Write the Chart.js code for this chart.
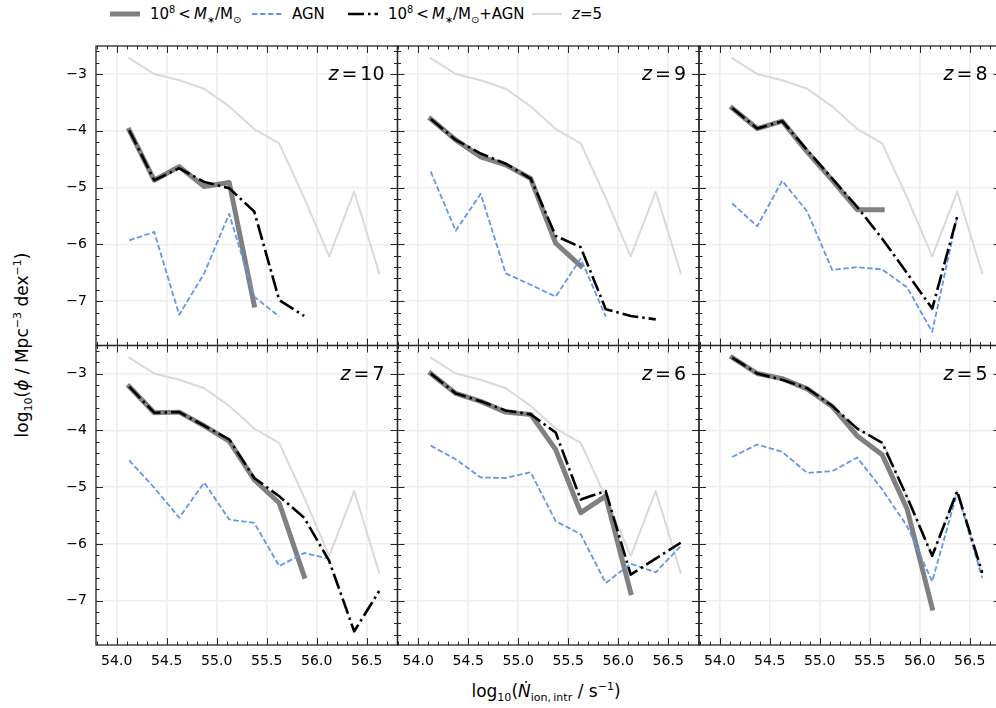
<!DOCTYPE html>
<html>
<head>
<meta charset="utf-8">
<script src="https://cdn.jsdelivr.net/npm/chart.js@4.4.0/dist/chart.umd.min.js"></script>
<style>
  body { margin: 0; width: 996px; height: 708px; overflow: hidden; background: #fff; position: relative;
         font-family: "DejaVu Sans", sans-serif; color: #000; }
  canvas { position: absolute; }
  .item { position: absolute; top: 3px; height: 22px; display: flex; align-items: center; white-space: nowrap; font-size: 15px; }
  .item svg { margin-right: 10px; }
  .ytitle { position: absolute; left: 22px; top: 345px; transform: translate(-50%, -50%) rotate(-90deg); font-size: 17px; white-space: nowrap; }
  .xtitle { position: absolute; left: 546px; top: 691px; transform: translate(-50%, -50%); font-size: 17px; white-space: nowrap; }
  sub, sup { font-size: 65%; line-height: 0; }
</style>
</head>
<body>

<div class="item" style="left:110px"><svg width="30" height="10"><line x1="0" y1="5" x2="30" y2="5" stroke="#808080" stroke-width="5"/></svg><span>10<sup>8</sup>&thinsp;&lt;&thinsp;<i>M</i><sub>∗</sub>/M<sub>⊙</sub></span></div>
<div class="item" style="left:252px"><svg width="30" height="10"><line x1="0" y1="5" x2="30" y2="5" stroke="#6495ed" stroke-width="1.8" stroke-dasharray="5.5 2.5"/></svg><span>AGN</span></div>
<div class="item" style="left:348px"><svg width="30" height="10"><line x1="0" y1="5" x2="30" y2="5" stroke="#000" stroke-width="2.5" stroke-dasharray="16 4 2.5 4"/></svg><span>10<sup>8</sup>&thinsp;&lt;&thinsp;<i>M</i><sub>∗</sub>/M<sub>⊙</sub>+AGN</span></div>
<div class="item" style="left:532px"><svg width="30" height="10"><line x1="0" y1="5" x2="30" y2="5" stroke="#d9d9d9" stroke-width="2"/></svg><span><i>z</i>=5</span></div>

<div class="ytitle">log<sub>10</sub>(<i>ϕ</i> / Mpc<sup>−3</sup> dex<sup>−1</sup>)</div>
<div class="xtitle">log<sub>10</sub>(<i>Ṅ</i><sub>ion,&thinsp;intr</sub> / s<sup>−1</sup>)</div>

<script>
// bin centres of log10(N_ion) and axis ticks
const binCentres = [54.125, 54.375, 54.625, 54.875, 55.125, 55.375, 55.625, 55.875, 56.125, 56.375, 56.625];
const xTicks = [54.0, 54.5, 55.0, 55.5, 56.0, 56.5];
const yTicks = [-7, -6, -5, -4, -3];
const redshifts = [10, 9, 8, 7, 6, 5];

// log10(phi)
const stellarZ10 = [-3.99, -4.87, -4.63, -4.98, -4.91, -7.07];
const agnZ10 = [-5.93, -5.78, -7.24, -6.51, -5.46, -6.92, -7.27];
const combinedZ10 = [-3.99, -4.87, -4.66, -4.90, -5.01, -5.42, -6.98, -7.26];

const stellarZ9 = [-3.79, -4.16, -4.46, -4.60, -4.84, -5.98, -6.38];
const agnZ9 = [-4.72, -5.76, -5.11, -6.51, -6.71, -6.92, -6.25, -7.27];
const combinedZ9 = [-3.79, -4.16, -4.40, -4.58, -4.84, -5.85, -6.05, -7.14, -7.26, -7.32];

const stellarZ8 = [-3.60, -3.96, -3.83, -4.37, -4.87, -5.39, -5.39];
const agnZ8 = [-5.28, -5.68, -4.88, -5.42, -6.45, -6.40, -6.44, -6.76, -7.54, -5.51];
const combinedZ8 = [-3.60, -3.96, -3.83, -4.34, -4.84, -5.34, -5.90, -6.51, -7.13, -5.51];

const stellarZ7 = [-3.23, -3.69, -3.68, -3.92, -4.19, -4.87, -5.28, -6.57];
const agnZ7 = [-4.53, -5.01, -5.54, -4.92, -5.57, -5.63, -6.39, -6.16, -6.26];
const combinedZ7 = [-3.23, -3.69, -3.68, -3.92, -4.16, -4.84, -5.16, -5.54, -6.30, -7.54, -6.83];

const stellarZ6 = [-3.00, -3.35, -3.49, -3.68, -3.72, -4.34, -5.45, -5.16, -6.86];
const agnZ6 = [-4.27, -4.51, -4.83, -4.84, -4.74, -5.60, -5.83, -6.69, -6.35, -6.50, -6.04];
const combinedZ6 = [-3.00, -3.35, -3.49, -3.65, -3.72, -4.04, -5.22, -5.07, -6.54, -6.26, -5.98];

const stellarZ5 = [-2.72, -3.00, -3.09, -3.27, -3.58, -4.10, -4.43, -5.39, -7.13];
const agnZ5 = [-4.47, -4.25, -4.38, -4.75, -4.72, -4.48, -5.04, -5.69, -6.66, -5.10, -6.60];
const combinedZ5 = [-2.72, -3.00, -3.11, -3.26, -3.57, -3.97, -4.22, -5.18, -6.21, -5.07, -6.51];

const stellarSets = [stellarZ10, stellarZ9, stellarZ8, stellarZ7, stellarZ6, stellarZ5];
const agnSets = [agnZ10, agnZ9, agnZ8, agnZ7, agnZ6, agnZ5];
const combinedSets = [combinedZ10, combinedZ9, combinedZ8, combinedZ7, combinedZ6, combinedZ5];

// panel geometry (page pixels)
const colLeft = [96, 397.5, 699];
const rowTop = [46, 345.5];
const panelW = 301.5, panelH = 299.5;
const xMin = 53.793, xMax = 56.808;
const yMin = -7.78, yMax = -2.507;

const toPoints = vals => vals.map((v, i) => ({ x: binCentres[i], y: v }));

const frameColour = '#262626';

const framePlugin = {
    id: 'frame',
    afterDraw(chart, args, opts) {
        const { ctx, chartArea: a, scales: { x, y } } = chart;
        ctx.save();
        ctx.strokeStyle = frameColour;
        ctx.lineWidth = 1;
        ctx.beginPath();
        // inward ticks on all four sides
        for (let k = 538; k <= 568; k++) {
            const v = k / 10;
            if (v < xMin || v > xMax) continue;
            const len = (k % 5 === 0) ? 7 : 3.5;
            const px = Math.round(x.getPixelForValue(v)) + 0.5;
            ctx.moveTo(px, a.bottom); ctx.lineTo(px, a.bottom - len);
            ctx.moveTo(px, a.top); ctx.lineTo(px, a.top + len);
        }
        for (let k = -39; k <= -12; k++) {
            const v = k / 5;
            if (v < yMin || v > yMax) continue;
            const len = (k % 5 === 0) ? 7 : 3.5;
            const py = Math.round(y.getPixelForValue(v)) + 0.5;
            ctx.moveTo(a.left, py); ctx.lineTo(a.left + len, py);
            ctx.moveTo(a.right, py); ctx.lineTo(a.right - len, py);
        }
        ctx.stroke();
        ctx.lineWidth = 1.3;
        ctx.strokeRect(a.left, a.top, a.width, a.height);

        ctx.fillStyle = '#000';
        ctx.font = '14px "DejaVu Sans"';
        if (opts.col === 0) {
            ctx.textAlign = 'right';
            ctx.textBaseline = 'middle';
            yTicks.forEach(v => ctx.fillText('\u2212' + Math.abs(v), a.left - 9, y.getPixelForValue(v)));
        }
        if (opts.row === 1) {
            ctx.textAlign = 'center';
            ctx.textBaseline = 'top';
            xTicks.forEach(v => ctx.fillText(v.toFixed(1), x.getPixelForValue(v), a.bottom + 9));
        }

        // redshift label, right aligned
        const base = a.top + 34;
        ctx.textBaseline = 'alphabetic';
        ctx.textAlign = 'left';
        ctx.font = '19px "DejaVu Sans"';
        const num = String(opts.z);
        const wNum = ctx.measureText(num).width;
        const wEq = ctx.measureText('=').width;
        ctx.font = 'italic 19px "DejaVu Sans"';
        const wZ = ctx.measureText('z').width;
        const gap = 3;
        let cx = a.right - 13 - wNum - wEq - wZ - 2 * gap;
        ctx.fillText('z', cx, base);
        cx += wZ + gap;
        ctx.font = '19px "DejaVu Sans"';
        ctx.fillText('=', cx, base);
        cx += wEq + gap;
        ctx.fillText(num, cx, base);
        ctx.restore();
    }
};

redshifts.forEach((z, i) => {
    const col = i % 3, row = Math.floor(i / 3);
    const canvasLeft = Math.floor(colLeft[col]) - 70;
    const canvasTop = Math.floor(rowTop[row]) - 15;
    const W = 395, H = 365;
    const canvas = document.createElement('canvas');
    canvas.width = W;
    canvas.height = H;
    canvas.style.left = canvasLeft + 'px';
    canvas.style.top = canvasTop + 'px';
    document.body.appendChild(canvas);

    const padLeft = colLeft[col] - canvasLeft;
    const padTop = rowTop[row] - canvasTop;

    new Chart(canvas, {
        type: 'line',
        data: {
            datasets: [
                {
                    label: 'z=5',
                    data: toPoints(combinedZ5),
                    borderColor: '#d9d9d9',
                    borderWidth: 2,
                    borderCapStyle: 'square',
                    order: 4
                },
                {
                    label: '10^8 < M*/Msun',
                    data: toPoints(stellarSets[i]),
                    borderColor: '#808080',
                    borderWidth: 5,
                    borderCapStyle: 'square',
                    order: 3
                },
                {
                    label: 'AGN',
                    data: toPoints(agnSets[i]),
                    borderColor: '#6495ed',
                    borderWidth: 1.8,
                    borderDash: [5.5, 2.5],
                    order: 2
                },
                {
                    label: '10^8 < M*/Msun + AGN',
                    data: toPoints(combinedSets[i]),
                    borderColor: '#000000',
                    borderWidth: 2.6,
                    borderDash: [16, 4, 2.5, 4],
                    order: 1
                }
            ]
        },
        options: {
            responsive: false,
            animation: false,
            layout: {
                padding: {
                    left: padLeft,
                    top: padTop,
                    right: W - padLeft - panelW,
                    bottom: H - padTop - panelH
                }
            },
            elements: {
                point: { radius: 0 },
                line: { tension: 0, borderJoinStyle: 'round', fill: false }
            },
            plugins: {
                legend: { display: false },
                tooltip: { enabled: false },
                frame: { col: col, row: row, z: z }
            },
            scales: {
                x: {
                    type: 'linear',
                    min: xMin,
                    max: xMax,
                    afterBuildTicks: s => { s.ticks = xTicks.map(v => ({ value: v })); },
                    grid: { color: '#eeeeee', lineWidth: 1.6, drawTicks: false },
                    border: { display: false },
                    ticks: { display: false }
                },
                y: {
                    type: 'linear',
                    min: yMin,
                    max: yMax,
                    afterBuildTicks: s => { s.ticks = yTicks.map(v => ({ value: v })); },
                    grid: { color: '#eeeeee', lineWidth: 1.6, drawTicks: false },
                    border: { display: false },
                    ticks: { display: false }
                }
            }
        },
        plugins: [framePlugin]
    });
});
</script>
</body>
</html>
